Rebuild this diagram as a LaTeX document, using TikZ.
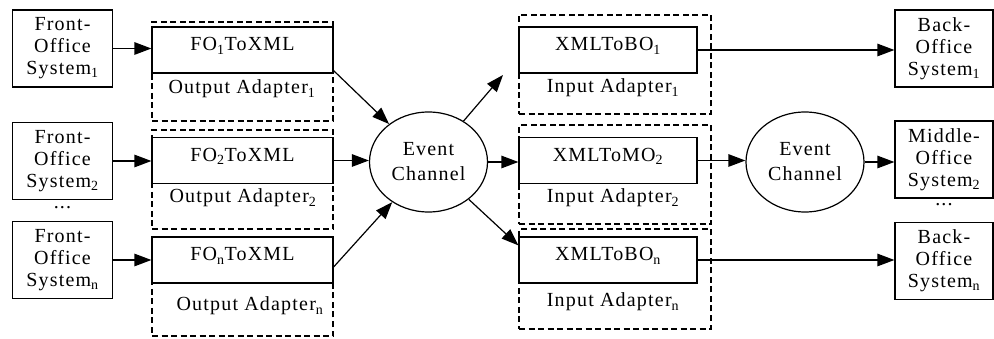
\documentclass[tikz,border=0pt]{standalone}
\usepackage{fontspec}
\setmainfont[LetterSpace=6]{Liberation Serif}
\usetikzlibrary{arrows.meta, shapes}
\tikzset{
  sysbox/.style={draw, line width=1.2pt, minimum width=100pt, minimum height=77pt,
    inner sep=0pt, align=center},
  convbox/.style={draw, fill=white, line width=1.2pt, minimum height=46pt, inner sep=0pt,
    text height=14pt, text depth=12pt},
  adapterbox/.style={draw, dash pattern=on 6pt off 3.5pt, line width=2pt,
    minimum height=99pt, inner sep=0pt},
  channel/.style={draw, ellipse, line width=1.2pt, minimum width=118pt,
    minimum height=100pt, inner sep=0pt, align=center},
  flow/.style={-{Triangle[length=17pt,width=12.5pt]}, line width=1.2pt}
}
\begin{document}
\begin{tikzpicture}[x=1pt, y=-1pt, font=\fontsize{20}{22}\selectfont]
  \useasboundingbox (0,0) rectangle (994,339);
  % front office side
  \node[sysbox] (fs1) at (62.5,48.5) {Front-\\Office\\System\textsubscript{1}};
  \node[sysbox] (fs2) at (62.5,161) {Front-\\Office\\System\textsubscript{2}};
  \node (dotsl) at (62.5,208) {...};
  \node[sysbox] (fsn) at (62.5,260) {Front-\\Office\\System\textsubscript{n}};
  % output adapters
  \node[adapterbox, minimum width=181pt] (oa1) at (242.5,71.5) {};
  \node[adapterbox, minimum width=181pt] (oa2) at (242.5,180) {};
  \node[adapterbox, minimum width=181pt] (oan) at (242.5,286.5) {};
  \node[convbox, minimum width=181pt] (fo1) at (242.5,50) {FO\textsubscript{1}ToXML};
  \node[convbox, minimum width=181pt] (fo2) at (242.5,160.5) {FO\textsubscript{2}ToXML};
  \node[convbox, minimum width=181pt] (fon) at (242.5,260) {FO\textsubscript{n}ToXML};
  \node[anchor=base] (oal1) at (242,94) {Output Adapter\textsubscript{1}};
  \node[anchor=base] (oal2) at (243,203) {Output Adapter\textsubscript{2}};
  \node[anchor=base] (oaln) at (250,311) {Output Adapter\textsubscript{n}};
  % event channels
  \node[channel] (ec1) at (428.5,162) {Event\\[3pt]Channel};
  \node[channel] (ec2) at (805,162) {Event\\[3pt]Channel};
  % input adapters
  \node[adapterbox, minimum width=192pt] (ia1) at (615,64.5) {};
  \node[adapterbox, minimum width=192pt] (ia2) at (615,175) {};
  \node[adapterbox, minimum width=192pt] (ian) at (615,279) {};
  \node[convbox, minimum width=178pt] (bo1) at (608,50) {XMLToBO\textsubscript{1}};
  \node[convbox, minimum width=178pt] (mo2) at (608,160.5) {XMLToMO\textsubscript{2}};
  \node[convbox, minimum width=178pt] (bon) at (608,260) {XMLToBO\textsubscript{n}};
  \node[anchor=base] (ial1) at (613,93) {Input Adapter\textsubscript{1}};
  \node[anchor=base] (ial2) at (613,203) {Input Adapter\textsubscript{2}};
  \node[anchor=base] (ialn) at (613,307) {Input Adapter\textsubscript{n}};
  % back office side
  \node[sysbox, minimum width=98pt] (bs1) at (944,48.5) {Back-\\Office\\System\textsubscript{1}};
  \node[sysbox, minimum width=98pt] (ms2) at (944,159.5) {Middle-\\Office\\System\textsubscript{2}};
  \node (dotsr) at (944,205) {...};
  \node[sysbox, minimum width=98pt] (bsn) at (944,261) {Back-\\Office\\System\textsubscript{n}};
  \coordinate (up1) at (503,75);
  % connectors
  \draw[flow] (fs1.east) -- (fs1.east -| fo1.west);
  \draw[flow] (fs2.east) -- (fs2.east -| fo2.west);
  \draw[flow] (fsn.east) -- (fsn.east -| fon.west);
  \draw[flow] ([yshift=3pt]fo1.south east) -- (ec1);
  \draw[flow] (fo2.east) -- (fo2.east -| ec1.west);
  \draw[flow] ([yshift=-7pt]fon.east) -- (ec1);
  \draw[flow] (ec1) -- (up1);
  \draw[flow] (ec1.east) -- (ec1.east -| mo2.west);
  \draw[flow] (ec1) -- ([yshift=-9pt]bon.north west);
  \draw[flow] (bo1.east) -- (bo1.east -| bs1.west);
  \draw[flow] (mo2.east) -- (mo2.east -| ec2.west);
  \draw[flow] (ec2.east) -- (ec2.east -| ms2.west);
  \draw[flow] (bon.east) -- (bon.east -| bsn.west);
\end{tikzpicture}
\end{document}
